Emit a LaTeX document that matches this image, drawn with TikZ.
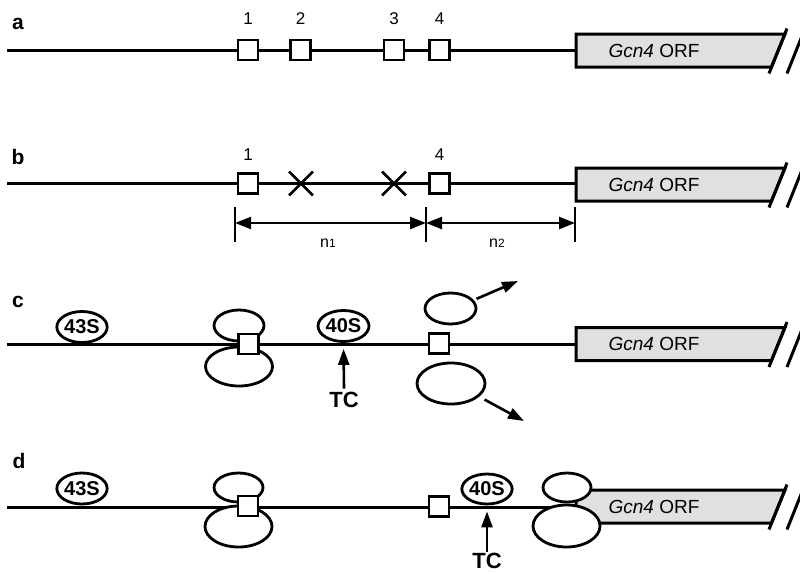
\documentclass[tikz,border=0pt]{standalone}
\usepackage{fontspec}
\setmainfont{Liberation Sans}
\usetikzlibrary{shapes.geometric,shapes.misc,arrows.meta,calc}
\definecolor{orfgray}{RGB}{224,224,224}
\newcommand\orfrow[2]{%
  \draw[orf] (576,#1-16.5) coordinate (#2nw) -- (785,#1-16.5) -- (771.4,#1+16.5) -- (576,#1+16.5) coordinate (#2sw) -- cycle;
  \draw[breakmark] (769,#1+23) -- (787,#1-22);
  \draw[breakmark] (787,#1+23) -- (805,#1-22);
  \node[orftext] (#2) at (654,#1) {\textit{Gcn4} ORF};
}
\begin{document}
\begin{tikzpicture}[x=1pt,y=-1pt,
  strand/.style={line width=3pt},
  site/.style={draw,fill=white,line width=2.8pt,minimum width=20pt,minimum height=20pt,inner sep=0pt},
  rib/.style={ellipse,draw,fill=white,line width=2.8pt,inner sep=0pt},
  orf/.style={draw,fill=orfgray,line width=3pt,line join=miter},
  breakmark/.style={line width=3pt},
  mutx/.style={cross out,draw,line width=2.8pt,minimum size=21pt,inner sep=0pt},
  panel/.style={font=\fontsize{21}{21}\selectfont\bfseries},
  sitenum/.style={font=\fontsize{17}{17}\selectfont},
  orftext/.style={font=\fontsize{19}{19}\selectfont},
  rlab/.style={font=\fontsize{20}{20}\selectfont\bfseries},
  tclab/.style={font=\fontsize{22}{22}\selectfont\bfseries},
  nlab/.style={font=\fontsize{16}{16}\selectfont},
  dimline/.style={line width=2.4pt},
  arrowhd/.style={line width=2.6pt,-{Triangle[length=16pt,width=11pt]}},
  dimarrow/.style={line width=2.4pt,{Triangle[length=16pt,width=12pt]}-{Triangle[length=16pt,width=12pt]}},
]
\useasboundingbox (0,0) rectangle (800,573);

% ---------- a ----------
\node[panel] (la) at (18,24) {a};
\coordinate (a0) at (7,50);
\coordinate (aE) at (576,50);
\draw[strand] (a0) -- (aE);
\orfrow{50.5}{aorf}
\node[site] (a1) at (248,50) {};
\node[site] (a2) at (300.5,50) {};
\node[site] (a3) at (394,50) {};
\node[site] (a4) at (439.5,50) {};
\node[sitenum] (a1l) at (248,19) {1};
\node[sitenum] (a2l) at (300.5,19) {2};
\node[sitenum] (a3l) at (394,19) {3};
\node[sitenum] (a4l) at (439.5,19) {4};

% ---------- b ----------
\node[panel] (lb) at (18,157) {b};
\coordinate (b0) at (7,183.5);
\coordinate (bE) at (576,183.5);
\draw[strand] (b0) -- (bE);
\orfrow{184.5}{borf}
\node[site] (b1) at (248,183.5) {};
\node[mutx] (bx2) at (301,183.5) {};
\node[mutx] (bx3) at (394,183.5) {};
\node[site] (b4) at (439.5,183.5) {};
\node[sitenum] (b1l) at (248,155) {1};
\node[sitenum] (b4l) at (439.5,155) {4};
\coordinate (t1) at (235,223);
\coordinate (t2) at (426,223);
\coordinate (t3) at (575,223);
\draw[dimline] ($(t1)+(0,-16)$) -- ($(t1)+(0,19)$);
\draw[dimline] ($(t2)+(0,-16)$) -- ($(t2)+(0,19)$);
\draw[dimline] ($(t3)+(0,-16)$) -- ($(t3)+(0,19)$);
\draw[dimarrow] (t1) -- (t2);
\draw[dimarrow] (t2) -- (t3);
\node[nlab] (n1) at (328,243) {n{\fontsize{12}{12}\selectfont 1}};
\node[nlab] (n2) at (497,243) {n{\fontsize{12}{12}\selectfont 2}};

% ---------- c ----------
\node[panel] (lc) at (18,302) {c};
\coordinate (c0) at (7,344);
\coordinate (cE) at (576,344);
\draw[strand] (c0) -- (cE);
\orfrow{344}{corf}
\node[rib,minimum width=50pt,minimum height=31pt,rlab] (c43) at (82,327) {43S};
\node[rib,minimum width=50pt,minimum height=31pt] (clu) at (239,325.5) {};
\node[rib,minimum width=67pt,minimum height=39pt] (cll) at (239,366.5) {};
\node[site] (c1) at (248.5,344) {};
\node[rib,minimum width=51pt,minimum height=31pt,rlab] (c40) at (343.5,326) {40S};
\node[tclab] (ctc) at (344,400) {TC};
\draw[arrowhd,shorten >=6pt] (ctc.north) -- (c40.south);
\node[site] (c4) at (439,343.5) {};
\node[rib,minimum width=51pt,minimum height=31pt] (cru) at (450.5,308.5) {};
\node[rib,minimum width=68pt,minimum height=41pt] (crl) at (451,383.5) {};
\coordinate (cuo) at (518,281);
\coordinate (clo) at (524,421);
\draw[arrowhd,shorten <=3pt] (cru.20) -- (cuo);
\draw[arrowhd,shorten <=6pt] (crl.-25) -- (clo);

% ---------- d ----------
\node[panel] (ld) at (19,461) {d};
\coordinate (d0) at (7,507);
\coordinate (dE) at (576,507);
\draw[strand] (d0) -- (dE);
\orfrow{506.5}{dorf}
\node[rib,minimum width=50pt,minimum height=31pt,rlab] (d43) at (82,488.5) {43S};
\node[rib,minimum width=49pt,minimum height=29pt] (dlu) at (238.5,487.5) {};
\node[rib,minimum width=67pt,minimum height=41pt] (dll) at (238.5,526.5) {};
\node[site] (d1) at (248,506) {};
\node[site] (d4) at (439,506.5) {};
\node[rib,minimum width=50pt,minimum height=30pt,rlab] (d40) at (487,489) {40S};
\node[tclab,inner sep=1pt] (dtc) at (487,561) {TC};
\draw[arrowhd,shorten >=6pt] (dtc.north) -- (d40.south);
\node[rib,minimum width=48pt,minimum height=29pt] (dru) at (567,487.5) {};
\node[rib,minimum width=67pt,minimum height=42pt] (drl) at (566.5,526) {};
\end{tikzpicture}
\end{document}
